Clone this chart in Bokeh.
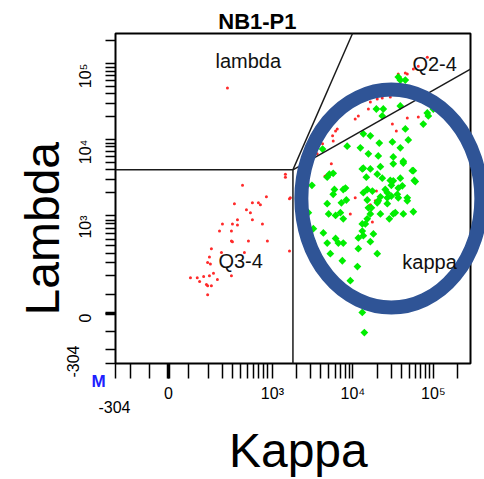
import numpy as np
from math import pi
from bokeh.plotting import figure
from bokeh.models import Range1d, FixedTicker, Label, LinearAxis
from bokeh.embed import file_html
from bokeh.resources import INLINE

# ---- events (fluorescence intensity) ----
kappa_green = [36700, 38900, 44900, 19600, 23900, 23200, 38900, 84200, 100000, 86700,
               75100, 44900, 13500, 16500, 8500, 12400, 21300, 31000, 48900, 38900,
               15600, 20700, 31800, 42400, 4200, 13100, 16500, 22000, 20100, 23200,
               14700, 29200, 31800, 38900, 54800, 58100, 41200, 30100, 5100, 5700,
               4800, 3100, 5900, 8100, 7200, 4800, 8300, 15100, 17500, 25300,
               26800, 30100, 36700, 47500, 17000, 15100, 20700, 13500, 31800, 42400,
               56500, 59700, 36700, 35700, 47500, 26800, 22000, 13500, 5700, 7600,
               20100, 15600, 16500, 15100, 13100, 26800, 33700, 42400, 56500, 22000,
               11700, 13500, 18000, 4300, 6100, 6600, 7600, 4800, 3230, 3100,
               2800, 5000, 7000, 11700, 20100, 5250, 11400, 9300, 13100, 13900,
               6100, 7600, 14300, 16500, 7400, 28400, 31800, 13100]
lambda_green = [66600, 60800, 60800, 25300, 25300, 20500, 27700, 22400, 25300, 20500,
                16000, 13800, 11900, 11200, 8200, 7800, 9000, 9300, 9900, 7800,
                6500, 6100, 5900, 5200, 7500, 4100, 4100, 4400, 3500, 3100,
                3200, 2900, 2860, 3100, 3900, 2900, 2460, 2500, 3500, 3600,
                3200, 2500, 2200, 2300, 1470, 1430, 1600, 2200, 2100, 2200,
                1710, 1800, 1710, 1710, 1260, 1600, 1560, 4200, 4800, 4900,
                3900, 2800, 2300, 1900, 1560, 2000, 1760, 2000, 1900, 2200,
                1470, 1260, 1050, 930, 800, 1430, 1090, 1050, 1120, 1050,
                520, 560, 590, 610, 510, 440, 440, 440, 700, 470,
                1090, 1050, 1090, 360, 295, 295, 170, 87, 3, -53,
                1000, 930, 800, 460, 220, 930, 1050, 650]

kappa_red = [1450, 1450, 430, 875, 325, 583, 700, 740, 1630, 486,
             550, 200, 300, 363, 363, 583, 780, 179, 290, 290,
             300, 517, 900, 121, 193, 457, 1630, 107, 98, 114,
             136, 88, 107, 55, 72, 164, 290, 78, 95, 98,
             121, 98, 250,
             36700, 44900, 47500, 56500, 65100, 84200, 16500, 15600, 20100, 23200,
             29200, 10700, 11700, 6100, 5600, 5700, 4200, 3600, 47500, 65100,
             75100, 86700, 31000, 34700, 5400, 4700, 7400, 10700, 16500, 19600,
             19000, 1670, 9300, 17500, 4500, 3000, 6400]
lambda_red = [3500, 3200, 2500, 1760, 1430, 1470, 1470, 1380, 1660, 1190,
              1090, 800, 800, 910, 780, 910, 800, 650, 650, 470,
              460, 470, 470, 360, 310, 310, 330, 260, 200, 190,
              120, 98, 100, 95, 95, 90, 100, 85, 77, 74,
              74, 50, 47700,
              72900, 75200, 72900, 84900, 92900, 122000, 31200, 25300, 34200, 35300,
              36300, 18700, 20500, 13000, 11200, 9600, 8800, 6500, 19200, 19800,
              31200, 29400, 16000, 13000, 4800, 3400, 2200, 1710, 1380, 2100,
              1560, 1710, 1050, 850, 3300, 5700, 13800]

# ---- gates ----
gate_x = 1800        # vertical split (kappa)
gate_y = 4000        # horizontal split (lambda)
upper_diag_end = (9900, 250000)
lower_diag_end = (290000, 85000)

# ---- axis definition ----
KAPPA_MIN, KAPPA_MAX = -304, 290000
LAMBDA_MIN, LAMBDA_MAX = -304, 250000
tick_major = [-304, 0, 1000, 10000, 100000]
tick_labels = ["", "0", "10\u00b3", "10\u2074", "10\u2075"]
tick_minor = [-100, -50, 50, 100, 200, 300, 400, 500, 600, 700, 800, 900,
              2000, 3000, 4000, 5000, 6000, 7000, 8000, 9000,
              20000, 30000, 40000, 50000, 60000, 70000, 80000, 90000, 200000]

# biexponential-style display: linear-ish near zero, log above 10^3
LIN_VALS = [-304, -100, -50, 0, 50, 100, 200, 300, 400, 500, 600, 700, 800, 900, 1000]
LIN_POS = [-53, -38, -19, 0, 20, 40, 54, 64, 72, 79, 85, 90, 95, 99, 104]
DECADE = 80.5


def biex(v):
    v = np.asarray(v, dtype=float)
    hi = LIN_POS[-1] + DECADE * np.log10(np.maximum(v, 1000.0) / 1000.0)
    lo = np.interp(v, LIN_VALS, LIN_POS)
    return np.round(np.where(v >= 1000, hi, lo), 6)


x_lo, x_hi = float(biex(KAPPA_MIN)), float(biex(KAPPA_MAX))
y_lo, y_hi = float(biex(LAMBDA_MIN)), float(biex(LAMBDA_MAX))

# canvas layout (pixels): plot box spans 115..470 horizontally, 33..363 vertically
W, H = 484, 479
BOX_L, BOX_R, BOX_T, BOX_B = 115, 470, 33, 363
kx = (BOX_R - BOX_L) / (x_hi - x_lo)
ky = (BOX_B - BOX_T) / (y_hi - y_lo)

p = figure(width=W, height=H, output_backend="svg", toolbar_location=None,
           x_range=Range1d(x_lo - BOX_L / kx, x_hi + (W - BOX_R) / kx),
           y_range=Range1d(y_lo - (H - BOX_B) / ky, y_hi + BOX_T / ky),
           min_border=0)
p.outline_line_color = None
p.grid.visible = False
p.background_fill_color = "white"
p.border_fill_color = "white"

major_t = [float(t) for t in biex(tick_major)]
minor_t = [float(t) for t in biex(tick_minor)]
overrides = {t: lab for t, lab in zip(major_t, tick_labels)}

for ax, out in ((p.xaxis[0], 15), (p.yaxis[0], 10)):
    ax.ticker = FixedTicker(ticks=major_t, minor_ticks=minor_t)
    ax.major_label_overrides = overrides
    ax.major_tick_out = out
    ax.major_tick_in = 0
    ax.minor_tick_out = out
    ax.minor_tick_in = 0
    ax.major_tick_line_width = 1.5
    ax.minor_tick_line_width = 1.5
    ax.major_tick_line_color = "black"
    ax.minor_tick_line_color = "black"
    ax.major_label_text_font = "Liberation Sans"
    ax.major_label_text_font_size = "16px"
    ax.major_label_text_color = "black"
    ax.axis_line_color = None
p.xaxis[0].fixed_location = y_lo
p.yaxis[0].fixed_location = x_lo
p.xaxis.major_label_standoff = 6
p.yaxis.major_label_standoff = 20
p.yaxis.major_label_orientation = pi / 2

# heavier tick at zero on both axes
p.add_layout(LinearAxis(ticker=FixedTicker(ticks=[0.0], minor_ticks=[]), fixed_location=y_lo,
                        major_tick_out=15, major_tick_in=0, major_tick_line_width=3.5,
                        axis_line_color=None, major_label_text_alpha=0), "below")
p.add_layout(LinearAxis(ticker=FixedTicker(ticks=[0.0], minor_ticks=[]), fixed_location=x_lo,
                        major_tick_out=10, major_tick_in=0, major_tick_line_width=3.5,
                        axis_line_color=None, major_label_text_alpha=0), "left")

# plot box
p.quad(left=x_lo, right=x_hi, bottom=y_lo, top=y_hi, fill_color=None,
       line_color="black", line_width=2)

# events
p.scatter(biex(kappa_red), biex(lambda_red), marker="circle", size=3,
          fill_color="#ff2a2a", line_color=None)
p.scatter(biex(kappa_green), biex(lambda_green), marker="square", angle=pi / 4, size=5.5,
          fill_color="#00ee00", line_color=None)

# gate boundaries
gate_color = "#1a1a1a"
p.line(biex([KAPPA_MIN, gate_x]), biex([gate_y, gate_y]), line_color=gate_color, line_width=1.5)
p.line(biex([gate_x, gate_x]), biex([LAMBDA_MIN, gate_y]), line_color=gate_color, line_width=1.5)
p.line(biex([gate_x, upper_diag_end[0]]), biex([gate_y, upper_diag_end[1]]),
       line_color=gate_color, line_width=1.5)
p.line(biex([gate_x, lower_diag_end[0]]), biex([gate_y, lower_diag_end[1]]),
       line_color=gate_color, line_width=1.5)

# highlighted kappa population (stroke centre line 180 x 218 px)
p.ellipse(x=[float(biex(30100))], y=[float(biex(1670))], width=180 / kx, height=218 / ky,
          fill_color=None, line_color="#2f5496", line_width=14)


def text(txt, x, y, size, dx=0, dy=0, angle=0, align="left", style="normal",
         color="#111111", font="Liberation Sans"):
    p.add_layout(Label(x=x, y=y, x_offset=dx, y_offset=dy, text=txt, angle=angle,
                       text_font=font, text_font_size=f"{size}px",
                       text_font_style=style, text_color=color,
                       text_align=align, text_baseline="alphabetic"))


# gate names
for txt, kv, lv in (("lambda", 150, 89000), ("Q2-4", 55000, 81300),
                    ("Q3-4", 171, 163), ("kappa", 41200, 155)):
    text(txt, float(biex(kv)), float(biex(lv)), 20, dy=7)

# plot title
text("NB1-P1", float(biex(680)), y_hi, 22, dy=12.5, align="center", style="bold",
     color="black")

# axis-end labels
text("-304", x_lo, y_lo, 16, dx=-1, dy=-43.5, align="center", color="black")
text("-304", x_lo, y_lo, 16, dx=-42.5, dy=2, angle=pi / 2, align="center", color="black")
text("M", x_lo, y_lo, 17, dx=-17, dy=-18, align="center", style="bold", color="#2020ff")

# axis titles
text("Kappa", float(biex(2100)), y_lo, 48, dy=-86.5, align="center", color="black")
text("Lambda", x_lo, float(biex(700)), 48, dx=-73.5, angle=pi / 2, align="center",
     color="black")

open("out.html", "w").write(file_html(p, INLINE))
